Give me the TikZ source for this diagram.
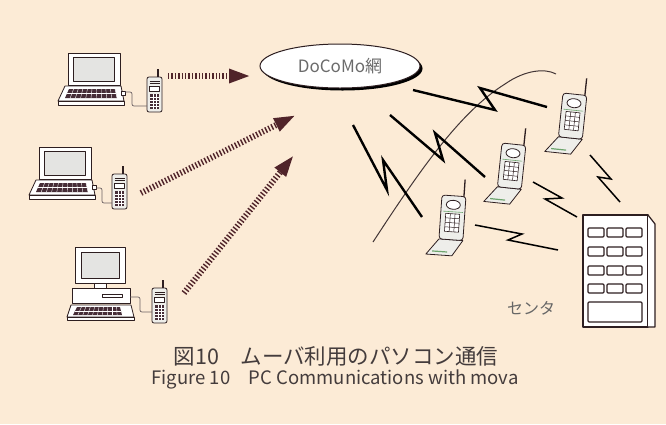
\documentclass[tikz,border=0pt]{standalone}
\usepackage{fontspec}
\setmainfont{Noto Sans CJK JP}
\usetikzlibrary{arrows.meta,shapes.geometric,shadows}

\definecolor{paper}{RGB}{252,235,214}
\definecolor{ink}{RGB}{45,30,32}
\definecolor{dotink}{RGB}{80,36,42}
\definecolor{captext}{RGB}{68,60,60}
\definecolor{casing}{RGB}{238,238,234}
\definecolor{keydark}{RGB}{70,45,55}
\definecolor{tint}{RGB}{110,165,110}
\definecolor{screen}{RGB}{228,228,226}

\tikzset{
  outline/.style={draw=ink, line width=0.8pt, line join=round},
  bolt/.style={draw=black, line width=2.4pt, line join=miter, miter limit=25},
  smallbolt/.style={draw=black, line width=1.5pt, line join=miter, miter limit=25},
  radio/.style={draw=dotink, line width=6pt, dash pattern=on 1.4pt off 2pt,
    -{Triangle[length=22pt,width=13pt]}},
  cable/.style={draw=ink!70, line width=0.7pt, rounded corners=2pt},
  wave/.style={draw=ink!90, line width=1pt},
  window/.style={outline, line width=1.1pt, fill=white, rounded corners=1pt},
  laptop/.pic={
    \draw[outline, fill=white] (0,0) rectangle (52,32);
    \draw[outline, fill=screen] (5,4) rectangle (46,28);
    \draw[outline, fill=white] (-3,33) -- (53,33) -- (56,48) -- (-10,48) -- cycle;
    \draw[outline, fill=white] (-10,48) rectangle (56,52);
    \fill[keydark] (1,36) -- (47,36) -- (49,45) -- (-3,45) -- cycle;
    \foreach \i in {1,...,10} \draw[white, line width=0.4pt] ({1+4.6*\i},36) -- ({-3+5.2*\i},45);
    \draw[white, line width=0.4pt] (-1,40.5) -- (48,40.5);
    \draw[outline, fill=white] (53,38) rectangle (57,42);
  },
  desktop/.pic={
    \draw[outline, fill=white] (0,0) rectangle (50,36);
    \draw[outline, fill=screen] (6,5) rectangle (44,31);
    \draw[outline, fill=white] (19,36) rectangle (31,41);
    \draw[outline, fill=white] (-3,41) rectangle (55,56);
    \draw[outline] (27,47) rectangle (47,50);
    \draw[outline, fill=white] (-4,58) -- (56,58) -- (59,70) -- (-8,70) -- cycle;
    \draw[outline, fill=white] (-8,70) rectangle (59,73);
    \fill[keydark] (2,60) -- (45,60) -- (47,68) -- (-2,68) -- cycle;
    \foreach \i in {1,...,9} \draw[white, line width=0.4pt] ({2+4.4*\i},60) -- ({-2+4.9*\i},68);
    \draw[white, line width=0.4pt] (0,64) -- (46,64);
  },
  barphone/.pic={
    \draw[ink, line width=1.1pt] (11,1) -- (11,-8);
    \draw[outline, fill=casing, rounded corners=2pt] (0,0) rectangle (15,35);
    \draw[outline, line width=0.5pt] (2.5,4) -- (12.5,4) (2.5,6.5) -- (12.5,6.5);
    \draw[outline, line width=0.5pt, fill=white] (2.5,9) rectangle (12.5,14);
    \fill[keydark] (3,17) rectangle (12,32);
    \foreach \i in {1,2} \draw[white, line width=0.45pt] ({3+3*\i},17) -- ({3+3*\i},32);
    \foreach \j in {1,...,4} \draw[white, line width=0.45pt] (3,{17+3*\j}) -- (12,{17+3*\j});
  },
  flipphone/.pic={
    \draw[ink, line width=1.3pt] (22,1) -- (22,-17);
    \draw[outline, fill=casing] (0,44) -- (24,44) -- (14,60) -- (-12,60) -- cycle;
    \draw[tint, line width=1.2pt] (-6,56.5) -- (9,56.5);
    \draw[outline, fill=casing, rounded corners=3pt] (0,0) rectangle (24,44);
    \draw[outline, fill=white] (12,9) ellipse (7 and 4.5);
    \draw[tint, line width=0.6pt] (2,16) -- (22,16);
    \draw[outline, line width=0.6pt, fill=white] (5,18) rectangle (19,36);
    \foreach \i in {1,2} \draw[ink, line width=0.5pt] ({5+14/3*\i},18) -- ({5+14/3*\i},36);
    \foreach \j in {1,2,3} \draw[ink, line width=0.5pt] (5,{18+4.5*\j}) -- (19,{18+4.5*\j});
  }
}

\begin{document}
\begin{tikzpicture}[x=1pt, y=-1pt]
  % sheet
  \fill[paper] (0,0) rectangle (666,424);
  \useasboundingbox (0,0) rectangle (666,424);

  % network cloud
  \node[ellipse, draw=ink, line width=1pt, fill=white,
        minimum width=160pt, minimum height=44pt,
        drop shadow={shadow xshift=2.5pt, shadow yshift=-2.5pt, fill=black, opacity=1},
        font=\fontsize{17}{20}\selectfont, text=black!58] (net) at (340,66) {DoCoMo網};

  % terminals on the left
  \pic at (68,53) {laptop};
  \pic at (39,147) {laptop};
  \pic at (75,247) {desktop};
  \pic at (147,77) {barphone};
  \pic at (112,174) {barphone};
  \pic at (152,288) {barphone};

  % cables between computers and handsets
  \draw[cable] (125,92) -- (132,92) -- (132,106) -- (147,106);
  \draw[cable] (96,188) -- (102,188) -- (102,203) -- (112,203);
  \draw[cable] (130,297) -- (140,297) -- (140,312) -- (152,312);

  % radio links towards the network
  \coordinate (s1) at (168,76);  \coordinate (t1) at (251,76);
  \coordinate (s2) at (141,193); \coordinate (t2) at (296,115);
  \coordinate (s3) at (184,293); \coordinate (t3) at (294,155);
  \draw[radio] (s1) -- (t1);
  \draw[radio] (s2) -- (t2);
  \draw[radio] (s3) -- (t3);

  % cell boundary curve
  \draw[wave] (373,242) .. controls (420,170) and (460,112) .. (505,84)
              .. controls (525,70) and (545,68) .. (556,74);

  % large lightning bolts
  \draw[bolt] (413,90) -- (495,110) -- (480,88) -- (547,107);
  \draw[bolt] (390,115) -- (443,160) -- (435,133) -- (485,177);
  \draw[bolt] (353,125) -- (387,190) -- (383,160) -- (422,217);

  % small lightning bolts
  \draw[smallbolt] (590,155) -- (611,179) -- (598,177) -- (620,202);
  \draw[smallbolt] (533,182) -- (562,198) -- (545,199) -- (577,217);
  \draw[smallbolt] (475,225) -- (522,234) -- (508,240) -- (558,250);

  % mobile handsets
  \pic[rotate=-6] at (563,93) {flipphone};
  \pic[rotate=-6] at (502,143) {flipphone};
  \pic[rotate=-4] at (442,195) {flipphone};

  % centre building
  \draw[outline, line width=1.2pt, fill=white] (583,215) rectangle (648,327);
  \draw[outline, line width=1.2pt, fill=white] (648,215) -- (655,224) -- (655,327) -- (648,327);
  \foreach \x in {588,607,626}
    \foreach \y in {228,247,266,284}
      \draw[window] (\x,\y) rectangle ++(16,9);
  \draw[window] (588,302) rectangle (642,322);
  \node[font=\fontsize{16}{19}\selectfont, text=black!60] (centre) at (531,308) {センタ};

  % caption
  \node[font=\fontsize{21.5}{24}\selectfont, text=captext] (cap1) at (336,356) {図10　ムーバ利用のパソコン通信};
  \node[font=\fontsize{18.5}{22}\selectfont, text=captext] (cap2) at (335,379) {Figure 10\quad PC Communications with mova};
\end{tikzpicture}
\end{document}
